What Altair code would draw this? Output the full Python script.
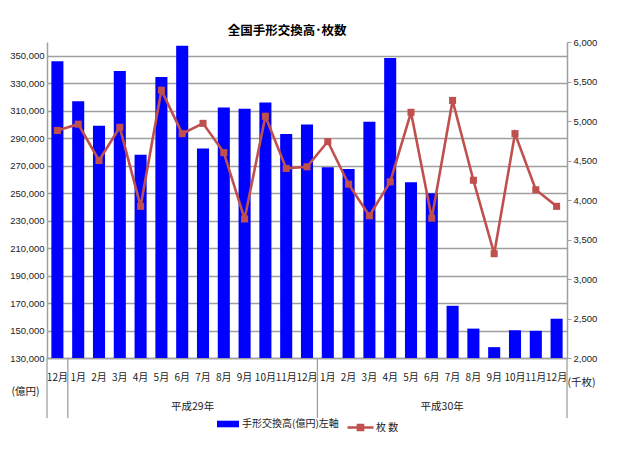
import altair as alt
import pandas as pd

keys = ["H28-12",
        "H29-01", "H29-02", "H29-03", "H29-04", "H29-05", "H29-06",
        "H29-07", "H29-08", "H29-09", "H29-10", "H29-11", "H29-12",
        "H30-01", "H30-02", "H30-03", "H30-04", "H30-05", "H30-06",
        "H30-07", "H30-08", "H30-09", "H30-10", "H30-11", "H30-12"]
amount = [346000,
          316800, 299100, 338900, 278000, 334500, 357300,
          282400, 312400, 311500, 316000, 293000, 300000,
          268800, 267600, 302000, 348300, 257900, 249900,
          168000, 151400, 137900, 150200, 149800, 158500]
count = [4880,
         4960, 4500, 4920, 3920, 5390, 4840,
         4970, 4600, 3760, 5060, 4400, 4420,
         4740, 4200, 3800, 4230, 5110, 3770,
         5260, 4250, 3320, 4840, 4130, 3920]
left_ticks = [130000, 150000, 170000, 190000, 210000, 230000,
              250000, 270000, 290000, 310000, 330000, 350000]
right_ticks = [2000, 2500, 3000, 3500, 4000, 4500, 5000, 5500, 6000]
year_keys = ["H29-07", "H30-07"]
year_labels = ["平成29年", "平成30年"]
sep_keys = ["H28-12", "H29-01", "H30-01"]
end_keys = ["H30-12"]

bar_name = "手形交換高(億円)左軸"
line_name = "枚 数"
title_text = "全国手形交換高･枚数"

JP = "Noto Sans CJK JP"
NUM = "Liberation Sans"
GRID = "#a0a0a0"
BLUE = "#0000FF"
RED = "#C0504D"

df = pd.DataFrame({"key": keys, "amount": amount, "count": count,
                   "s1": bar_name, "s2": line_name})
ydf = pd.DataFrame({"key": year_keys, "label": year_labels})
sdf = pd.DataFrame({"key": sep_keys})
edf = pd.DataFrame({"key": end_keys})

xscale = alt.Scale(domain=keys, paddingInner=0, paddingOuter=0)

bars = alt.Chart(df).mark_bar(width=alt.RelativeBandSize(0.58), clip=True).encode(
    x=alt.X("key:N", scale=xscale, sort=keys, title=None,
            axis=alt.Axis(labelExpr="toNumber(split(datum.value, '-')[1]) + '月'",
                          ticks=False, tickSize=0, domainColor=GRID, domainWidth=1.5,
                          labelAngle=0, labelFont=JP, labelFontSize=10,
                          labelColor="#222222", labelPadding=19,
                          labelBaseline="middle", labelOverlap=False,
                          grid=False)),
    y=alt.Y("amount:Q",
            scale=alt.Scale(domain=[130000, 360000], zero=False, nice=False),
            axis=alt.Axis(values=left_ticks, format=",.0f", grid=True,
                          gridColor=GRID, gridWidth=1.3, ticks=False,
                          domainColor=GRID, domainWidth=1.5,
                          labelFont=NUM, labelFontSize=9.5, labelColor="#222222",
                          labelPadding=3, labelOverlap=False,
                          title="(億円)", titleAngle=0, titleX=-22, titleY=349,
                          titleAlign="center", titleBaseline="middle",
                          titleFont=JP, titleFontSize=10.5, titleFontWeight="normal",
                          titleColor="#222222")),
    y2=alt.datum(130000),
    color=alt.Color("s1:N", scale=alt.Scale(range=[BLUE]),
                    legend=alt.Legend(orient="none", legendX=170, legendY=371,
                                      title=None, padding=0,
                                      symbolType="M-1,-0.3H1V0.3H-1Z",
                                      symbolSize=484, symbolStrokeWidth=0,
                                      labelFont=JP, labelFontSize=10,
                                      labelColor="#222222", labelLimit=0,
                                      labelOffset=3)),
)

seps = alt.Chart(sdf).mark_rule(color=GRID, strokeWidth=1.3).encode(
    x=alt.X("key:N", scale=xscale, sort=keys, bandPosition=0, title=None),
    y=alt.value(316), y2=alt.value(376),
)
ends = alt.Chart(edf).mark_rule(color=GRID, strokeWidth=1.3).encode(
    x=alt.X("key:N", scale=xscale, sort=keys, bandPosition=1, title=None),
    y=alt.value(316), y2=alt.value(376),
)
years = alt.Chart(ydf).mark_text(font=JP, fontSize=10.5, color="#222222",
                                 align="center", baseline="middle").encode(
    x=alt.X("key:N", scale=xscale, sort=keys, bandPosition=0, title=None),
    y=alt.value(365),
    text="label:N",
)

left = alt.layer(bars, seps, ends, years)

yline = alt.Y("count:Q",
              scale=alt.Scale(domain=[2000, 6000], zero=False, nice=False),
              axis=alt.Axis(orient="right", values=right_ticks, format=",.0f",
                            grid=False, ticks=True, tickSize=4, tickColor=GRID,
                            domainColor=GRID, domainWidth=1.5,
                            labelFont=NUM, labelFontSize=9.5, labelColor="#222222",
                            labelPadding=2, labelOverlap=False,
                            title="(千枚)", titleAngle=0, titleX=14, titleY=340,
                            titleAlign="center", titleBaseline="middle",
                            titleFont=JP, titleFontSize=10.5, titleFontWeight="normal",
                            titleColor="#222222"))

line = alt.Chart(df).mark_line(color=RED, strokeWidth=2.6).encode(
    x=alt.X("key:N", scale=xscale, sort=keys, title=None),
    y=yline,
)
points = alt.Chart(df).mark_point(shape="square", filled=True, size=50,
                                  opacity=1).encode(
    x=alt.X("key:N", scale=xscale, sort=keys, title=None),
    y=yline,
    fill=alt.Fill("s2:N", scale=alt.Scale(range=[RED]),
                  legend=alt.Legend(orient="none", legendX=299, legendY=371,
                                    title=None, padding=0,
                                    symbolType="M-1,0H1M-0.2,-0.2H0.2V0.2H-0.2Z",
                                    symbolSize=676, symbolStrokeWidth=2.5,
                                    symbolStrokeColor=RED,
                                    labelFont=JP, labelFontSize=10,
                                    labelColor="#222222", labelLimit=0,
                                    labelOffset=1)),
)

right = alt.layer(line, points)

chart = alt.layer(left, right).resolve_scale(
    y="independent"
).properties(
    width=520, height=316,
    title=alt.Title(title_text, font=JP, fontSize=12.5, fontWeight="bold",
                    color="#000000", anchor="middle", dx=-20, offset=0,
                    frame="group"),
    autosize=alt.AutoSizeParams(type="none"),
    padding={"left": 39, "top": 34, "right": 65, "bottom": 87},
    background="white",
).configure_view(stroke=None)

chart.save("out.html", embed_options={"renderer": "svg", "actions": False})
